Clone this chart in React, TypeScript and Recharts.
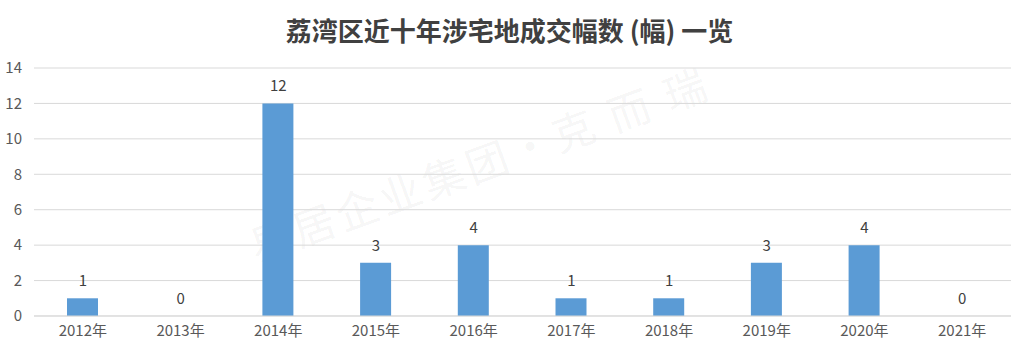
import { ComposedChart, Bar, Line, XAxis, YAxis, CartesianGrid, LabelList } from "recharts";

const years = ["2012年", "2013年", "2014年", "2015年", "2016年", "2017年", "2018年", "2019年", "2020年", "2021年"];
const counts = [1, 0, 12, 3, 4, 1, 1, 3, 4, 0];
const yTicks = [0, 2, 4, 6, 8, 10, 12, 14];

const rows = years.map((year, i) => ({ year, count: counts[i] }));

const FONT = "'Noto Sans CJK SC', 'Noto Sans', sans-serif";

export default function App() {
  return (
    <div style={{ position: "absolute", left: 0, top: 0, width: 1011, height: 351, background: "#fff", fontFamily: FONT }}>
      <div
        style={{
          position: "absolute",
          top: 11,
          left: 4,
          width: 1011,
          textAlign: "center",
          fontSize: 26,
          fontWeight: 700,
          color: "#404040",
          lineHeight: "38px",
        }}
      >
        荔湾区近十年涉宅地成交幅数 (幅) 一览
      </div>
      {/* faint watermark */}
      <div
        style={{
          position: "absolute",
          left: 250,
          top: 215,
          fontSize: 42,
          color: "rgba(0,0,0,0.055)",
          transform: "rotate(-20deg)",
          transformOrigin: "left center",
          whiteSpace: "nowrap",
          letterSpacing: 4,
        }}
      >
        易居企业集团·克 而 瑞
      </div>
      <ComposedChart width={1011} height={351} data={rows} margin={{ top: 68, right: 0, left: 0, bottom: 0 }}>
        <CartesianGrid vertical={false} stroke="#d9d9d9" />
        <XAxis
          dataKey="year"
          height={35}
          tickLine={false}
          axisLine={{ stroke: "#d9d9d9" }}
          tickSize={0}
          tickMargin={9}
          tick={{ fill: "#595959", fontSize: 15, fontFamily: FONT }}
        />
        <YAxis
          width={34}
          domain={[0, 14]}
          ticks={yTicks}
          tickLine={false}
          axisLine={false}
          tickSize={0}
          tickMargin={12}
          tick={{ fill: "#595959", fontSize: 15, fontFamily: FONT }}
        />
        <Bar dataKey="count" fill="#5b9bd5" barSize={31} isAnimationActive={false} />
        {/* invisible line only to carry the value labels (incl. zeros) */}
        <Line dataKey="count" stroke="none" dot={false} activeDot={false} isAnimationActive={false}>
          <LabelList dataKey="count" position="top" offset={12} fill="#404040" fontSize={15} fontFamily={FONT} />
        </Line>
      </ComposedChart>
    </div>
  );
}
